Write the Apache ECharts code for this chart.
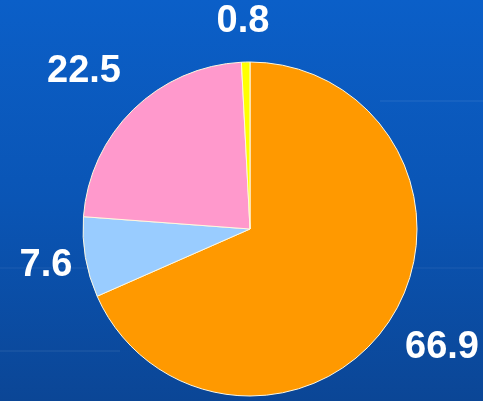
<!DOCTYPE html>
<html>
<head>
<meta charset="utf-8">
<script src="https://cdn.jsdelivr.net/npm/echarts@6/dist/echarts.min.js"></script>
<style>
html, body { margin: 0; padding: 0; }
#main { width: 483px; height: 401px; }
</style>
</head>
<body>
<div id="main"></div>
<script>
// slices, clockwise from 12 o'clock
var names = ['A', 'B', 'C', 'D'];
var values = [66.9, 7.6, 22.5, 0.8];
var colors = ['#ff9900', '#99ccff', '#ff99cc', '#ffff00'];

// where each value label sits
var labelPos = [[442, 348], [46, 266], [84, 72], [243, 22]];

var myChart = echarts.init(document.getElementById('main'));

var data = [];
for (var i = 0; i < values.length; i++) {
    data.push({ name: names[i], value: values[i], itemStyle: { color: colors[i] } });
}

var option = {
    backgroundColor: {
        type: 'linear', x: 0, y: 0, x2: 0, y2: 1,
        colorStops: [
            { offset: 0, color: '#0b5fc8' },
            { offset: 0.5, color: '#0a55b5' },
            { offset: 1, color: '#0b4696' }
        ]
    },
    graphic: [
        { type: 'line', shape: { x1: 380, y1: 101, x2: 483, y2: 101 }, style: { stroke: 'rgba(255,255,255,0.1)', lineWidth: 1 } },
        { type: 'line', shape: { x1: 0, y1: 268, x2: 90, y2: 268 }, style: { stroke: 'rgba(255,255,255,0.08)', lineWidth: 1 } },
        { type: 'line', shape: { x1: 410, y1: 268, x2: 483, y2: 268 }, style: { stroke: 'rgba(255,255,255,0.08)', lineWidth: 1 } },
        { type: 'line', shape: { x1: 0, y1: 351, x2: 120, y2: 351 }, style: { stroke: 'rgba(255,255,255,0.1)', lineWidth: 1 } }
    ],
    series: [{
        type: 'pie',
        center: [250, 229],
        radius: [0, 167],
        startAngle: 90,
        clockwise: true,
        animation: false,
        itemStyle: {
            borderColor: '#fff8e0',
            borderWidth: 1
        },
        label: {
            show: true,
            position: 'outside',
            overflow: 'none',
            formatter: function (p) { return p.value.toFixed(1); },
            color: '#ffffff',
            fontFamily: 'Liberation Sans',
            fontWeight: 'bold',
            fontSize: 38
        },
        labelLine: { show: false },
        labelLayout: function (params) {
            var p = labelPos[params.dataIndex];
            return { x: p[0], y: p[1], align: 'center', verticalAlign: 'middle' };
        },
        data: data
    }]
};
myChart.setOption(option);
</script>
</body>
</html>
